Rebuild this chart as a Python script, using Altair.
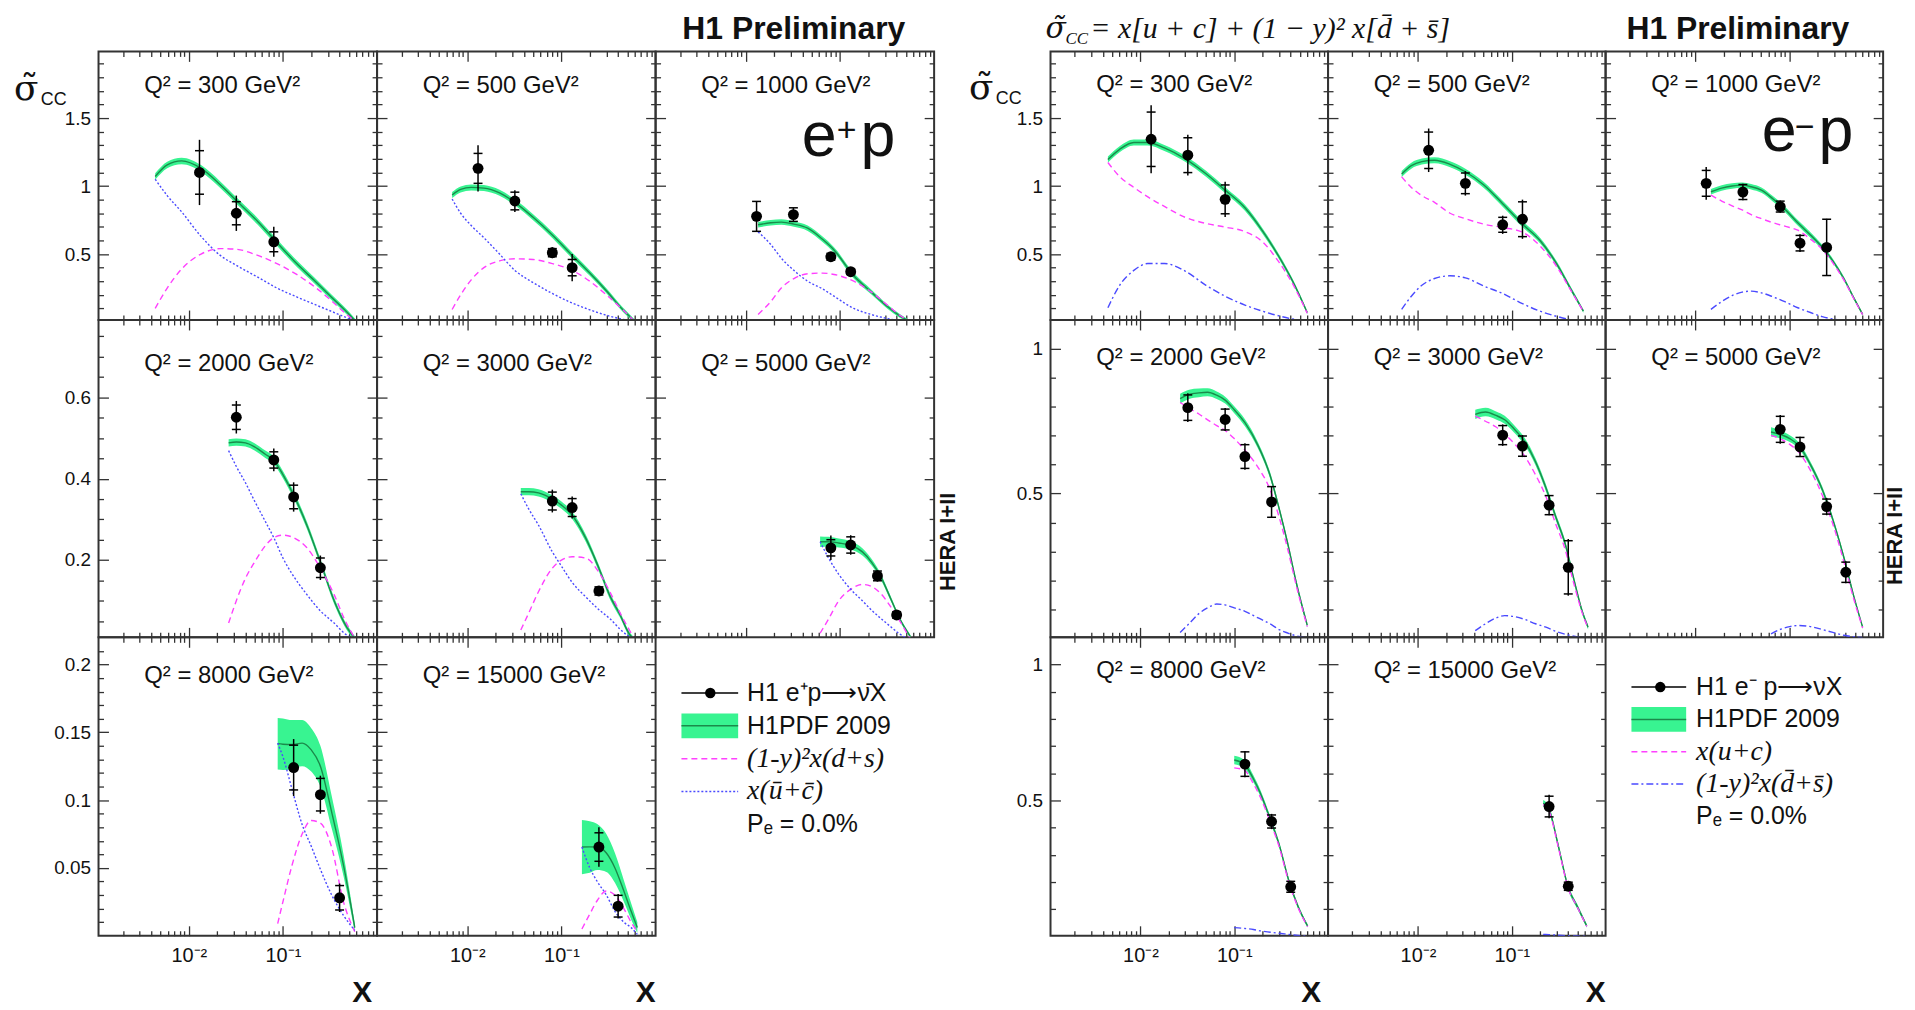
import altair as alt
import pandas as pd

SANS = "Liberation Sans"
SERIF = "Liberation Serif"
MATH = "DejaVu Serif"
INK = "#111111"
FRAME = "#333333"
BAND_FILL = "#38f491"
CENTRAL = "#1b8a4b"
PINK = "#ff40ff"
BLUE = "#4a4aff"

# ---------------- axis values ----------------
X_DOMAIN = [0.0011, 1.0]
X_MAJOR = [0.01, 0.1]
X_MINOR = [0.002, 0.003, 0.004, 0.005, 0.006, 0.007, 0.008, 0.009,
           0.02, 0.03, 0.04, 0.05, 0.06, 0.07, 0.08, 0.09,
           0.2, 0.3, 0.4, 0.5, 0.6, 0.7, 0.8, 0.9]
TOP_DOMAIN = [0.015, 1.99]
TOP_YMAJ = [0.5, 1.0, 1.5]
TOP_YMIN = [0.1, 0.2, 0.3, 0.4, 0.6, 0.7, 0.8, 0.9, 1.1, 1.2, 1.3, 1.4, 1.6, 1.7, 1.8, 1.9]
EPMID_DOMAIN = [0.01, 0.79]
EPMID_YMAJ = [0.2, 0.4, 0.6]
EPMID_YMIN = [0.05, 0.1, 0.15, 0.25, 0.3, 0.35, 0.45, 0.5, 0.55, 0.65, 0.7, 0.75]
EPBOT_DOMAIN = [0.0, 0.22]
EPBOT_YMAJ = [0.05, 0.1, 0.15, 0.2]
EPBOT_YMIN = [0.01, 0.02, 0.03, 0.04, 0.06, 0.07, 0.08, 0.09, 0.11, 0.12, 0.13,
              0.14, 0.16, 0.17, 0.18, 0.19, 0.21]
EM_DOMAIN = [0.003, 1.1]
EM_YMAJ = [0.5, 1.0]
EM_YMIN = [0.1, 0.2, 0.3, 0.4, 0.6, 0.7, 0.8, 0.9]

# ---------------- e+p data ----------------
EP300_PX = [0.013, 0.032, 0.08]
EP300_PY = [1.10, 0.80, 0.59]
EP300_STAT = [0.16, 0.085, 0.073]
EP300_TOT = [0.24, 0.13, 0.11]
EP300_CX = [0.0044, 0.0059, 0.0084, 0.0135, 0.0216, 0.0324, 0.054, 0.0864, 0.14, 0.216, 0.324, 0.486, 0.6]
EP300_CG = [1.07, 1.155, 1.185, 1.13, 1.01, 0.89, 0.74, 0.585, 0.43, 0.305, 0.186, 0.068, 0.0]
EP300_CB = [0.024, 0.024, 0.024, 0.024, 0.024, 0.024, 0.024, 0.024, 0.024, 0.022, 0.02, 0.018, 0.015]
EP300_CP = [0.10, 0.25, 0.39, 0.50, 0.54, 0.535, 0.49, 0.43, 0.35, 0.26, 0.16, 0.05, 0.0]
EP300_CBL = [1.05, 0.93, 0.81, 0.63, 0.49, 0.415, 0.33, 0.25, 0.185, 0.13, 0.08, 0.03, 0.005]

EP500_PX = [0.013, 0.032, 0.08, 0.13]
EP500_PY = [1.13, 0.89, 0.51, 0.40]
EP500_STAT = [0.11, 0.065, 0.03, 0.06]
EP500_TOT = [0.17, 0.08, 0.04, 0.10]
EP500_CX = [0.0069, 0.0085, 0.011, 0.015, 0.022, 0.032, 0.05, 0.08, 0.13, 0.2, 0.3, 0.45, 0.6]
EP500_CG = [0.934, 0.975, 0.99, 0.985, 0.95, 0.88, 0.77, 0.64, 0.49, 0.36, 0.23, 0.09, 0.005]
EP500_CB = [0.022, 0.022, 0.022, 0.022, 0.022, 0.022, 0.022, 0.022, 0.022, 0.02, 0.018, 0.016, 0.014]
EP500_CP = [0.092, 0.20, 0.31, 0.40, 0.45, 0.465, 0.46, 0.43, 0.38, 0.30, 0.20, 0.09, 0.005]
EP500_CBL = [0.905, 0.80, 0.71, 0.62, 0.50, 0.38, 0.29, 0.21, 0.14, 0.09, 0.05, 0.02, 0.003]

EP1000_PX = [0.013, 0.032, 0.08, 0.13]
EP1000_PY = [0.777, 0.79, 0.48, 0.37]
EP1000_STAT = [0.11, 0.05, 0.025, 0.02]
EP1000_TOT = [0.11, 0.05, 0.025, 0.02]
EP1000_CX = [0.0135, 0.0184, 0.0238, 0.0324, 0.0454, 0.0648, 0.0864, 0.14, 0.216, 0.324, 0.432, 0.54]
EP1000_CG = [0.715, 0.73, 0.735, 0.72, 0.69, 0.61, 0.53, 0.34, 0.22, 0.11, 0.045, 0.005]
EP1000_CB = [0.02, 0.02, 0.02, 0.02, 0.02, 0.02, 0.02, 0.02, 0.018, 0.016, 0.014, 0.012]
EP1000_CP = [0.056, 0.15, 0.25, 0.32, 0.355, 0.36, 0.35, 0.30, 0.22, 0.12, 0.05, 0.005]
EP1000_CBL = [0.663, 0.57, 0.47, 0.38, 0.30, 0.245, 0.19, 0.10, 0.055, 0.025, 0.01, 0.002]

EP2000_PX = [0.032, 0.08, 0.13, 0.25]
EP2000_PY = [0.551, 0.446, 0.355, 0.181]
EP2000_STAT = [0.03, 0.02, 0.029, 0.024]
EP2000_TOT = [0.04, 0.028, 0.036, 0.03]
EP2000_CX = [0.0265, 0.032, 0.04, 0.05, 0.065, 0.08, 0.1, 0.13, 0.18, 0.25, 0.35, 0.45, 0.59]
EP2000_CG = [0.488, 0.49, 0.488, 0.478, 0.46, 0.445, 0.41, 0.36, 0.285, 0.195, 0.10, 0.045, 0.005]
EP2000_CB = [0.009, 0.009, 0.009, 0.009, 0.009, 0.009, 0.009, 0.009, 0.009, 0.008, 0.008, 0.007, 0.006]
EP2000_CP = [0.045, 0.10, 0.155, 0.195, 0.235, 0.255, 0.261, 0.255, 0.23, 0.18, 0.115, 0.055, 0.005]
EP2000_CBL = [0.469, 0.43, 0.39, 0.345, 0.295, 0.255, 0.205, 0.16, 0.115, 0.075, 0.045, 0.02, 0.003]

EP3000_PX = [0.08, 0.13, 0.25]
EP3000_PY = [0.345, 0.329, 0.124]
EP3000_STAT = [0.022, 0.022, 0.01]
EP3000_TOT = [0.028, 0.027, 0.012]
EP3000_CX = [0.037, 0.045, 0.057, 0.08, 0.1, 0.13, 0.18, 0.25, 0.33, 0.42, 0.52, 0.6]
EP3000_CG = [0.368, 0.368, 0.365, 0.35, 0.335, 0.31, 0.255, 0.18, 0.11, 0.065, 0.02, 0.003]
EP3000_CB = [0.009, 0.009, 0.009, 0.009, 0.009, 0.009, 0.009, 0.008, 0.008, 0.007, 0.006, 0.005]
EP3000_CP = [0.028, 0.07, 0.122, 0.18, 0.20, 0.208, 0.205, 0.17, 0.12, 0.07, 0.03, 0.005]
EP3000_CBL = [0.363, 0.325, 0.286, 0.22, 0.185, 0.145, 0.11, 0.078, 0.055, 0.03, 0.012, 0.002]

EP5000_PX = [0.08, 0.13, 0.25, 0.4]
EP5000_PY = [0.23, 0.237, 0.161, 0.065]
EP5000_STAT = [0.02, 0.02, 0.012, 0.008]
EP5000_TOT = [0.03, 0.024, 0.014, 0.009]
EP5000_CX = [0.0615, 0.0756, 0.097, 0.13, 0.173, 0.216, 0.27, 0.346, 0.432, 0.56]
EP5000_CG = [0.245, 0.245, 0.242, 0.236, 0.22, 0.195, 0.16, 0.105, 0.055, 0.012]
EP5000_CB = [0.013, 0.012, 0.011, 0.01, 0.009, 0.008, 0.007, 0.006, 0.005, 0.004]
EP5000_CP = [0.02, 0.055, 0.10, 0.128, 0.14, 0.135, 0.118, 0.085, 0.05, 0.005]
EP5000_CBL = [0.245, 0.205, 0.165, 0.128, 0.10, 0.077, 0.057, 0.036, 0.018, 0.003]

EP8000_PX = [0.13, 0.25, 0.4]
EP8000_PY = [0.124, 0.104, 0.028]
EP8000_STAT = [0.0165, 0.012, 0.009]
EP8000_TOT = [0.021, 0.014, 0.0105]
EP8000_CX = [0.088, 0.1, 0.125, 0.16, 0.2, 0.25, 0.33, 0.44, 0.58]
EP8000_CG = [0.1416, 0.1412, 0.141, 0.142, 0.137, 0.125, 0.091, 0.052, 0.006]
EP8000_CB = [0.019, 0.019, 0.018, 0.017, 0.016, 0.015, 0.012, 0.008, 0.003]
EP8000_CP = [0.009, 0.025, 0.052, 0.075, 0.085, 0.083, 0.065, 0.025, 0.003]
EP8000_CBL = [0.142, 0.132, 0.108, 0.082, 0.066, 0.049, 0.03, 0.015, 0.004]

EP15000_PX = [0.25, 0.4]
EP15000_PY = [0.0654, 0.0218]
EP15000_STAT = [0.0105, 0.008]
EP15000_TOT = [0.0145, 0.009]
EP15000_CX = [0.165, 0.2, 0.24, 0.3, 0.37, 0.46, 0.55, 0.64]
EP15000_CG = [0.0654, 0.0655, 0.0654, 0.061, 0.05, 0.033, 0.018, 0.006]
EP15000_CB = [0.02, 0.019, 0.017, 0.014, 0.011, 0.008, 0.006, 0.004]
EP15000_CP = [0.005, 0.016, 0.026, 0.033, 0.03, 0.02, 0.01, 0.003]
EP15000_CBL = [0.0654, 0.05, 0.04, 0.03, 0.018, 0.01, 0.006, 0.001]

# ---------------- e-p data ----------------
EM300_PX = [0.013, 0.032, 0.08]
EM300_PY = [1.344, 1.227, 0.902]
EM300_STAT = [0.2, 0.128, 0.106]
EM300_TOT = [0.25, 0.15, 0.13]
EM300_CX = [0.0045, 0.006, 0.0085, 0.012, 0.018, 0.03, 0.05, 0.08, 0.13, 0.2, 0.3, 0.42, 0.6]
EM300_CG = [1.195, 1.27, 1.32, 1.32, 1.28, 1.20, 1.09, 0.97, 0.84, 0.67, 0.48, 0.30, 0.07]
EM300_CB = [0.022, 0.022, 0.022, 0.022, 0.022, 0.022, 0.022, 0.022, 0.022, 0.02, 0.018, 0.016, 0.012]
EM300_CP = [1.173, 1.07, 0.99, 0.92, 0.85, 0.77, 0.725, 0.698, 0.665, 0.59, 0.44, 0.28, 0.065]
EM300_CBL = [0.105, 0.27, 0.38, 0.43, 0.43, 0.375, 0.27, 0.19, 0.125, 0.08, 0.045, 0.022, 0.005]

EM500_PX = [0.013, 0.032, 0.08, 0.13]
EM500_PY = [1.263, 1.02, 0.715, 0.756]
EM500_STAT = [0.134, 0.076, 0.055, 0.128]
EM500_TOT = [0.16, 0.09, 0.067, 0.144]
EM500_CX = [0.0067, 0.0085, 0.011, 0.015, 0.022, 0.032, 0.05, 0.08, 0.13, 0.2, 0.3, 0.42, 0.58]
EM500_CG = [1.088, 1.15, 1.18, 1.19, 1.16, 1.105, 1.01, 0.87, 0.72, 0.60, 0.43, 0.25, 0.08]
EM500_CB = [0.022, 0.022, 0.022, 0.022, 0.022, 0.022, 0.022, 0.022, 0.022, 0.02, 0.018, 0.016, 0.012]
EM500_CP = [1.068, 0.99, 0.93, 0.88, 0.80, 0.76, 0.72, 0.695, 0.66, 0.56, 0.41, 0.24, 0.078]
EM500_CBL = [0.093, 0.19, 0.27, 0.32, 0.34, 0.325, 0.265, 0.21, 0.135, 0.08, 0.042, 0.018, 0.005]

EM1000_PX = [0.013, 0.032, 0.08, 0.13, 0.25]
EM1000_PY = [1.02, 0.956, 0.849, 0.58, 0.549]
EM1000_STAT = [0.095, 0.055, 0.04, 0.057, 0.207]
EM1000_TOT = [0.12, 0.06, 0.045, 0.065, 0.21]
EM1000_CX = [0.0146, 0.019, 0.0246, 0.0314, 0.0392, 0.0504, 0.0672, 0.0896, 0.123, 0.168, 0.224,
             0.291, 0.381, 0.493, 0.605]
EM1000_CG = [0.958, 0.985, 1.0, 1.007, 0.995, 0.97, 0.905, 0.83, 0.73, 0.64, 0.55, 0.45, 0.32, 0.17, 0.056]
EM1000_CB = [0.02, 0.02, 0.02, 0.02, 0.02, 0.02, 0.02, 0.02, 0.02, 0.02, 0.018, 0.016, 0.014, 0.012, 0.01]
EM1000_CP = [0.934, 0.89, 0.855, 0.824, 0.79, 0.76, 0.73, 0.705, 0.675, 0.61, 0.535, 0.435, 0.31, 0.165, 0.054]
EM1000_CBL = [0.093, 0.15, 0.195, 0.22, 0.227, 0.215, 0.185, 0.15, 0.105, 0.07, 0.04, 0.022, 0.01, 0.003, 0.001]

EM2000_PX = [0.032, 0.08, 0.13, 0.25]
EM2000_PY = [0.797, 0.756, 0.628, 0.471]
EM2000_STAT = [0.044, 0.036, 0.041, 0.053]
EM2000_TOT = [0.05, 0.04, 0.046, 0.055]
EM2000_CX = [0.0265, 0.033, 0.042, 0.052, 0.065, 0.08, 0.1, 0.13, 0.18, 0.24, 0.3, 0.37, 0.46, 0.6]
EM2000_CG = [0.828, 0.843, 0.848, 0.85, 0.84, 0.823, 0.79, 0.745, 0.665, 0.565, 0.45, 0.33, 0.19, 0.045]
EM2000_CB = [0.017, 0.016, 0.015, 0.014, 0.013, 0.012, 0.012, 0.012, 0.011, 0.011, 0.01, 0.01, 0.01, 0.008]
EM2000_CP = [0.815, 0.795, 0.775, 0.755, 0.735, 0.718, 0.69, 0.65, 0.59, 0.515, 0.42, 0.31, 0.18, 0.04]
EM2000_CBL = [0.02, 0.05, 0.085, 0.105, 0.118, 0.115, 0.105, 0.093, 0.07, 0.05, 0.03, 0.018, 0.008, 0.003]

EM3000_PX = [0.08, 0.13, 0.25, 0.4]
EM3000_PY = [0.702, 0.664, 0.46, 0.245]
EM3000_STAT = [0.033, 0.035, 0.033, 0.092]
EM3000_TOT = [0.037, 0.038, 0.035, 0.098]
EM3000_CX = [0.0408, 0.0525, 0.068, 0.084, 0.105, 0.137, 0.179, 0.231, 0.294, 0.368, 0.462, 0.567, 0.651]
EM3000_CG = [0.774, 0.782, 0.77, 0.755, 0.725, 0.68, 0.61, 0.52, 0.42, 0.33, 0.20, 0.09, 0.038]
EM3000_CB = [0.016, 0.015, 0.014, 0.014, 0.013, 0.013, 0.012, 0.012, 0.011, 0.011, 0.01, 0.009, 0.008]
EM3000_CP = [0.768, 0.75, 0.73, 0.705, 0.675, 0.63, 0.565, 0.49, 0.395, 0.31, 0.185, 0.085, 0.035]
EM3000_CBL = [0.026, 0.05, 0.07, 0.078, 0.075, 0.065, 0.05, 0.038, 0.024, 0.014, 0.007, 0.003, 0.001]

EM5000_PX = [0.08, 0.13, 0.25, 0.4]
EM5000_PY = [0.722, 0.661, 0.455, 0.228]
EM5000_STAT = [0.045, 0.033, 0.026, 0.035]
EM5000_TOT = [0.05, 0.035, 0.03, 0.038]
EM5000_CX = [0.0638, 0.0795, 0.101, 0.128, 0.168, 0.224, 0.291, 0.381, 0.482, 0.605]
EM5000_CG = [0.713, 0.705, 0.69, 0.664, 0.60, 0.515, 0.41, 0.28, 0.15, 0.038]
EM5000_CB = [0.016, 0.014, 0.012, 0.011, 0.01, 0.01, 0.01, 0.009, 0.008, 0.006]
EM5000_CP = [0.701, 0.69, 0.67, 0.641, 0.58, 0.495, 0.395, 0.265, 0.14, 0.035]
EM5000_CBL = [0.015, 0.03, 0.04, 0.044, 0.04, 0.03, 0.02, 0.01, 0.005, 0.002]

EM8000_PX = [0.13, 0.25, 0.4]
EM8000_PY = [0.634, 0.423, 0.183]
EM8000_STAT = [0.045, 0.024, 0.02]
EM8000_TOT = [0.048, 0.028, 0.022]
EM8000_CX = [0.1, 0.128, 0.16, 0.19, 0.243, 0.3, 0.383, 0.48, 0.605]
EM8000_CG = [0.649, 0.634, 0.58, 0.527, 0.43, 0.34, 0.204, 0.11, 0.039]
EM8000_CB = [0.016, 0.015, 0.013, 0.012, 0.011, 0.01, 0.009, 0.008, 0.006]
EM8000_CP = [0.62, 0.612, 0.562, 0.512, 0.42, 0.332, 0.198, 0.106, 0.036]
EM8000_CBL = [0.033, 0.03, 0.026, 0.021, 0.016, 0.012, 0.008, 0.004, 0.001]

EM15000_PX = [0.25, 0.4]
EM15000_PY = [0.478, 0.185]
EM15000_STAT = [0.038, 0.015]
EM15000_TOT = [0.043, 0.017]
EM15000_CX = [0.216, 0.25, 0.315, 0.4, 0.5, 0.63]
EM15000_CG = [0.49, 0.466, 0.33, 0.18, 0.11, 0.039]
EM15000_CB = [0.012, 0.012, 0.011, 0.01, 0.009, 0.007]
EM15000_CP = [0.485, 0.46, 0.325, 0.177, 0.108, 0.037]
EM15000_CBL = [0.008, 0.007, 0.005, 0.003, 0.002, 0.001]

# ---------------- legend text ----------------
LEG_ROWS = [0, 1, 2, 3, 4]
LEG_EP = ["H1 e\u207ap\u27f6\u03bd\u0304X", "H1PDF 2009", "(1-y)\u00b2x(d+s)", "x(u\u0304+c\u0304)", "P\u2091 = 0.0%"]
LEG_EM = ["H1 e\u207b p\u27f6\u03bdX", "H1PDF 2009", "x(u+c)", "(1-y)\u00b2x(d\u0304+s\u0304)", "P\u2091 = 0.0%"]

DUMMY = pd.DataFrame({"d": [0]})

LW, RW, GAPW = 280, 279, 117
HH, H1, H2, H3 = 40, 270, 319, 300
PANEL_VIEW = alt.ViewBackground(stroke=FRAME, strokeWidth=2)


def x_axis(orient, values, size, labels=False):
    kw = dict(orient=orient, values=values, tickSize={"expr": str(-size)}, tickColor=FRAME,
              tickWidth=1.3, domain=False, grid=False, title=None, labels=labels)
    if labels:
        kw.update(labelExpr="datum.value < 0.05 ? '10\u207b\u00b2' : '10\u207b\u00b9'",
                  labelFont=SANS, labelFontSize=20, labelColor=INK,
                  labelPadding=size + 10, labelOverlap=False, labelFlush=False)
    return alt.Axis(**kw)


def y_axis(orient, values, size, labels=False):
    kw = dict(orient=orient, values=values, tickSize={"expr": str(-size)}, tickColor=FRAME,
              tickWidth=1.3, domain=False, grid=False, title=None, labels=labels)
    if labels:
        kw.update(format="~g", labelFont=SANS, labelFontSize=19, labelColor=INK,
                  labelPadding=size + 8, labelOverlap=False, labelFlush=False)
    return alt.Axis(**kw)


def note(text, x, y, size, font=SANS, align="left", baseline="alphabetic",
         weight="normal", style="normal", angle=0):
    return alt.Chart(DUMMY).mark_text(
        text=text, font=font, fontSize=size, align=align, baseline=baseline,
        fontWeight=weight, fontStyle=style, angle=angle, color=INK
    ).encode(x=alt.value(x), y=alt.value(y))


def panel(q2, px, py, pst, ptot, cx, cg, cb, cp, cbl, ydom, ymaj, ymin, w, h,
          first_col, bottom_row, blue_dash, title_y, extras=()):
    xs = alt.Scale(type="log", domain=X_DOMAIN, nice=False)
    ys = alt.Scale(domain=ydom, nice=False, zero=False)
    curves = pd.DataFrame({
        "x": cx, "g": cg,
        "lo": [a - b for a, b in zip(cg, cb)],
        "hi": [a + b for a, b in zip(cg, cb)],
        "p": cp, "b": cbl,
    })
    pts = pd.DataFrame({
        "x": px, "y": py,
        "tlo": [a - b for a, b in zip(py, ptot)],
        "thi": [a + b for a, b in zip(py, ptot)],
    })
    stat = pd.DataFrame({
        "x": list(px) + list(px),
        "y": [a - b for a, b in zip(py, pst)] + [a + b for a, b in zip(py, pst)],
    })
    band = alt.Chart(curves).mark_area(color=BAND_FILL, interpolate="monotone", clip=True).encode(
        x=alt.X("x:Q", scale=xs, axis=x_axis("bottom", X_MAJOR, 10, bottom_row)),
        y=alt.Y("lo:Q", scale=ys, axis=y_axis("left", ymaj, 10, first_col)),
        y2="hi:Q")
    cline = alt.Chart(curves).mark_line(color=CENTRAL, strokeWidth=1.4, interpolate="monotone", clip=True).encode(
        x=alt.X("x:Q", scale=xs, axis=x_axis("bottom", X_MINOR, 5)),
        y=alt.Y("g:Q", scale=ys, axis=y_axis("left", ymin, 5)))
    pink = alt.Chart(curves).mark_line(color=PINK, strokeWidth=1.4, strokeDash=[6, 4],
                                       interpolate="monotone", clip=True).encode(
        x=alt.X("x:Q", scale=xs, axis=x_axis("top", X_MAJOR, 10)),
        y=alt.Y("p:Q", scale=ys, axis=y_axis("right", ymaj, 10)))
    blue = alt.Chart(curves).mark_line(color=BLUE, strokeWidth=1.4, strokeDash=blue_dash,
                                       interpolate="monotone", clip=True).encode(
        x=alt.X("x:Q", scale=xs, axis=x_axis("top", X_MINOR, 5)),
        y=alt.Y("b:Q", scale=ys, axis=y_axis("right", ymin, 5)))
    err = alt.Chart(pts).mark_rule(color="black", strokeWidth=1.5).encode(
        x=alt.X("x:Q", scale=xs, axis=None),
        y=alt.Y("tlo:Q", scale=ys, axis=None), y2="thi:Q")
    ticks = alt.Chart(stat).mark_tick(orient="horizontal", size=9, thickness=1.5, color="black", opacity=1).encode(
        x=alt.X("x:Q", scale=xs, axis=None),
        y=alt.Y("y:Q", scale=ys, axis=None))
    dots = alt.Chart(pts).mark_circle(size=120, color="black", opacity=1).encode(
        x=alt.X("x:Q", scale=xs, axis=None),
        y=alt.Y("y:Q", scale=ys, axis=None))
    title = note(f"Q\u00b2 = {q2} GeV\u00b2", 46, title_y, 24)
    layers = [band, cline, pink, blue, err, ticks, dots, title] + list(extras)
    return alt.layer(*layers).resolve_axis(x="independent", y="independent").properties(
        width=w, height=h, view=PANEL_VIEW)


def blank(w, h, extras=()):
    # invisible anchor placed well inside the cell so it never widens the page bounds
    base = alt.Chart(DUMMY).mark_text(text="").encode(x=alt.value(w / 2), y=alt.value(h / 2))
    return alt.layer(base, *extras).properties(width=w, height=h)


def legend_cell(w, h, labels, top, bottom, xl0, xl1, xdot, xtext, blue_dash, serif_rows):
    ys = alt.Scale(domain=[0, 4], range=[top, bottom])
    df = pd.DataFrame({"r": LEG_ROWS, "t": labels})
    sans_df = df[[i not in serif_rows for i in LEG_ROWS]]
    serif_df = df[[i in serif_rows for i in LEG_ROWS]]

    def Y():
        return alt.Y("r:Q", scale=ys, axis=None)

    layers = [
        alt.Chart(df.iloc[[0]]).mark_rule(color="black", strokeWidth=1.5).encode(
            x=alt.value(xl0), x2=alt.value(xl1), y=Y()),
        alt.Chart(df.iloc[[0]]).mark_circle(size=110, color="black", opacity=1).encode(
            x=alt.value(xdot), y=Y()),
        alt.Chart(df.iloc[[1]]).mark_tick(orient="horizontal", size=xl1 - xl0, thickness=25,
                                           color=BAND_FILL, opacity=1).encode(
            x=alt.value((xl0 + xl1) / 2), y=Y()),
        alt.Chart(df.iloc[[1]]).mark_rule(color=CENTRAL, strokeWidth=1.5).encode(
            x=alt.value(xl0), x2=alt.value(xl1), y=Y()),
        alt.Chart(df.iloc[[2]]).mark_rule(color=PINK, strokeWidth=1.5, strokeDash=[6, 4]).encode(
            x=alt.value(xl0), x2=alt.value(xl1), y=Y()),
        alt.Chart(df.iloc[[3]]).mark_rule(color=BLUE, strokeWidth=1.5, strokeDash=blue_dash).encode(
            x=alt.value(xl0), x2=alt.value(xl1), y=Y()),
        alt.Chart(sans_df).mark_text(font=SANS, fontSize=25, align="left", baseline="middle", color=INK).encode(
            x=alt.value(xtext), y=Y(), text="t:N"),
        alt.Chart(serif_df).mark_text(font=SERIF, fontSize=28, fontStyle="italic", align="left",
                                      baseline="middle", color=INK).encode(
            x=alt.value(xtext), y=Y(), text="t:N"),
    ]
    return alt.layer(*layers).properties(width=w, height=h)


EP_DOT = [2, 2]
EM_DASHDOT = [7, 3, 2, 3]

# ---------------- annotations ----------------
sig_ep = [note("\u03c3\u0303", -85, 49, 36, font=MATH), note("CC", -58, 54, 18)]
sig_em = [note("\u03c3\u0303", -82, 48, 36, font=MATH), note("CC", -55, 53, 18)]
lab_ep = [note("e", 147, 105, 63), note("+", 192, 80, 34, align="center", baseline="middle"),
          note("p", 206, 105, 63)]
lab_em = [note("e", 157, 100, 63), note("\u2212", 200, 77, 34, align="center", baseline="middle"),
          note("p", 214, 100, 63)]
hera_l = [note("HERA I+II", LW + 14, 223, 22, weight="bold", align="center", baseline="middle", angle=270)]
hera_r = [note("HERA I+II", RW + 12, 217, 22, weight="bold", align="center", baseline="middle", angle=270)]


def xlab(xc):
    return [note("X", xc, H3 + 67, 30, weight="bold", align="center")]


formula = [
    note("\u03c3\u0303", -5, 27, 30, font=MATH, style="italic"),
    note("CC", 15, 33, 17, font=SERIF, style="italic"),
    note("= x[u + c] + (1 \u2212 y)\u00b2 x[d\u0304 + s\u0304]", 40, 27, 30, font=SERIF, style="italic"),
]

# ---------------- cells ----------------
row0 = [
    blank(LW, HH), blank(LW, HH),
    blank(LW, HH, [note("H1 Preliminary", 251, 28, 32, weight="bold", align="right")]),
    blank(GAPW, HH),
    blank(RW, HH, formula),
    blank(RW, HH),
    blank(RW, HH, [note("H1 Preliminary", 245, 28, 32, weight="bold", align="right")]),
]

row1 = [
    panel(300, EP300_PX, EP300_PY, EP300_STAT, EP300_TOT, EP300_CX, EP300_CG, EP300_CB, EP300_CP, EP300_CBL,
          TOP_DOMAIN, TOP_YMAJ, TOP_YMIN, LW, H1, True, False, EP_DOT, 42, sig_ep),
    panel(500, EP500_PX, EP500_PY, EP500_STAT, EP500_TOT, EP500_CX, EP500_CG, EP500_CB, EP500_CP, EP500_CBL,
          TOP_DOMAIN, TOP_YMAJ, TOP_YMIN, LW, H1, False, False, EP_DOT, 42),
    panel(1000, EP1000_PX, EP1000_PY, EP1000_STAT, EP1000_TOT, EP1000_CX, EP1000_CG, EP1000_CB, EP1000_CP,
          EP1000_CBL, TOP_DOMAIN, TOP_YMAJ, TOP_YMIN, LW, H1, False, False, EP_DOT, 42, lab_ep),
    blank(GAPW, H1),
    panel(300, EM300_PX, EM300_PY, EM300_STAT, EM300_TOT, EM300_CX, EM300_CG, EM300_CB, EM300_CP, EM300_CBL,
          TOP_DOMAIN, TOP_YMAJ, TOP_YMIN, RW, H1, True, False, EM_DASHDOT, 41, sig_em),
    panel(500, EM500_PX, EM500_PY, EM500_STAT, EM500_TOT, EM500_CX, EM500_CG, EM500_CB, EM500_CP, EM500_CBL,
          TOP_DOMAIN, TOP_YMAJ, TOP_YMIN, RW, H1, False, False, EM_DASHDOT, 41),
    panel(1000, EM1000_PX, EM1000_PY, EM1000_STAT, EM1000_TOT, EM1000_CX, EM1000_CG, EM1000_CB, EM1000_CP,
          EM1000_CBL, TOP_DOMAIN, TOP_YMAJ, TOP_YMIN, RW, H1, False, False, EM_DASHDOT, 41, lab_em),
]

row2 = [
    panel(2000, EP2000_PX, EP2000_PY, EP2000_STAT, EP2000_TOT, EP2000_CX, EP2000_CG, EP2000_CB, EP2000_CP,
          EP2000_CBL, EPMID_DOMAIN, EPMID_YMAJ, EPMID_YMIN, LW, H2, True, False, EP_DOT, 51),
    panel(3000, EP3000_PX, EP3000_PY, EP3000_STAT, EP3000_TOT, EP3000_CX, EP3000_CG, EP3000_CB, EP3000_CP,
          EP3000_CBL, EPMID_DOMAIN, EPMID_YMAJ, EPMID_YMIN, LW, H2, False, False, EP_DOT, 51),
    panel(5000, EP5000_PX, EP5000_PY, EP5000_STAT, EP5000_TOT, EP5000_CX, EP5000_CG, EP5000_CB, EP5000_CP,
          EP5000_CBL, EPMID_DOMAIN, EPMID_YMAJ, EPMID_YMIN, LW, H2, False, False, EP_DOT, 51, hera_l),
    blank(GAPW, H2),
    panel(2000, EM2000_PX, EM2000_PY, EM2000_STAT, EM2000_TOT, EM2000_CX, EM2000_CG, EM2000_CB, EM2000_CP,
          EM2000_CBL, EM_DOMAIN, EM_YMAJ, EM_YMIN, RW, H2, True, False, EM_DASHDOT, 45),
    panel(3000, EM3000_PX, EM3000_PY, EM3000_STAT, EM3000_TOT, EM3000_CX, EM3000_CG, EM3000_CB, EM3000_CP,
          EM3000_CBL, EM_DOMAIN, EM_YMAJ, EM_YMIN, RW, H2, False, False, EM_DASHDOT, 45),
    panel(5000, EM5000_PX, EM5000_PY, EM5000_STAT, EM5000_TOT, EM5000_CX, EM5000_CG, EM5000_CB, EM5000_CP,
          EM5000_CBL, EM_DOMAIN, EM_YMAJ, EM_YMIN, RW, H2, False, False, EM_DASHDOT, 45, hera_r),
]

row3 = [
    panel(8000, EP8000_PX, EP8000_PY, EP8000_STAT, EP8000_TOT, EP8000_CX, EP8000_CG, EP8000_CB, EP8000_CP,
          EP8000_CBL, EPBOT_DOMAIN, EPBOT_YMAJ, EPBOT_YMIN, LW, H3, True, True, EP_DOT, 46, xlab(265)),
    panel(15000, EP15000_PX, EP15000_PY, EP15000_STAT, EP15000_TOT, EP15000_CX, EP15000_CG, EP15000_CB,
          EP15000_CP, EP15000_CBL, EPBOT_DOMAIN, EPBOT_YMAJ, EPBOT_YMIN, LW, H3, False, True, EP_DOT, 46,
          xlab(270)),
    legend_cell(LW, H3, LEG_EP, 56, 188, 26, 83, 55, 92, EP_DOT, [2, 3]),
    blank(GAPW, H3),
    panel(8000, EM8000_PX, EM8000_PY, EM8000_STAT, EM8000_TOT, EM8000_CX, EM8000_CG, EM8000_CB, EM8000_CP,
          EM8000_CBL, EM_DOMAIN, EM_YMAJ, EM_YMIN, RW, H3, True, True, EM_DASHDOT, 41, xlab(262)),
    panel(15000, EM15000_PX, EM15000_PY, EM15000_STAT, EM15000_TOT, EM15000_CX, EM15000_CG, EM15000_CB,
          EM15000_CP, EM15000_CBL, EM_DOMAIN, EM_YMAJ, EM_YMIN, RW, H3, False, True, EM_DASHDOT, 41,
          xlab(269)),
    legend_cell(RW, H3, LEG_EM, 50, 180, 26, 81, 55, 91, EM_DASHDOT, [2, 3]),
]

chart = alt.concat(*(row0 + row1 + row2 + row3), columns=7, spacing=0, bounds="flush", align="each").properties(
    padding={"left": 5, "top": 0, "right": 0, "bottom": 0}
).configure(font=SANS).configure_view(stroke="transparent")

chart.save("out.html", embed_options={"renderer": "svg", "actions": False})
